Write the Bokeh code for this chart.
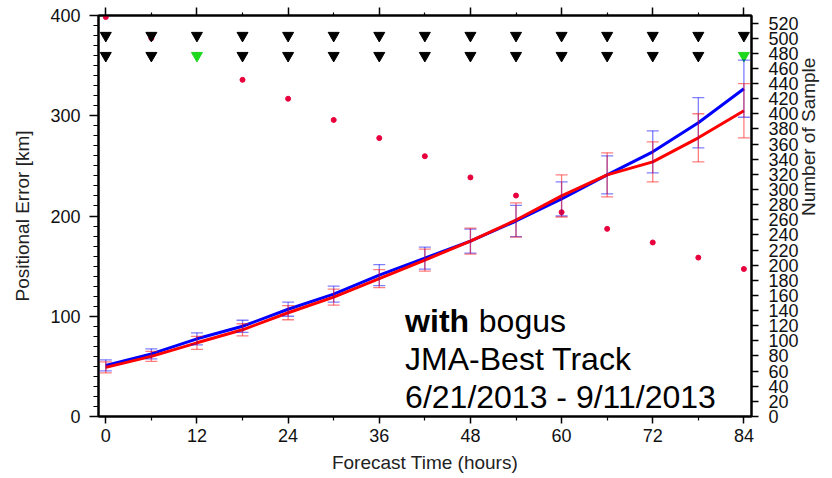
import math
from bokeh.plotting import figure
from bokeh.models import (Range1d, LinearAxis, FixedTicker, ColumnDataSource,
                          Whisker, TeeHead, Label)
from bokeh.transform import factor_cmap
from bokeh.embed import file_html
from bokeh.resources import INLINE

# ---------------- data ----------------
hours = [0, 6, 12, 18, 24, 30, 36, 42, 48, 54, 60, 66, 72, 78, 84]
err_blue = [51, 62.5, 77.5, 90, 107, 122, 141, 158, 175, 195, 217, 241, 264, 293, 327]
err_red = [49, 60, 73.5, 86.5, 103.5, 119, 137.5, 156, 175, 196, 220, 241, 254, 278, 305]
sd_blue = [5.5, 5, 6, 6, 7, 8, 10.5, 11, 12, 15.5, 17, 19, 21, 25, 28.5]
sd_red = [5.5, 5, 6.5, 6, 7, 8, 9, 11, 13, 17, 21, 22, 20, 24, 27]
n_samples = [528, 500, 478, 445, 420, 392, 368, 344, 316, 292, 270, 248, 230, 210, 195]
sig_row1 = ["ns"] * 15
sig_row2 = ["ns", "ns", "sig", "ns", "ns", "ns", "ns", "ns", "ns", "ns", "ns", "ns", "ns", "ns", "sig"]
x_ticks = [0, 12, 24, 36, 48, 60, 72, 84]
x_minor = [6, 18, 30, 42, 54, 66, 78]
y_ticks = [0, 100, 200, 300, 400]
n_ticks = list(range(0, 521, 20))

FONT = "Liberation Sans"

src = ColumnDataSource(dict(
    h=hours, b=err_blue, r=err_red, n=n_samples,
    bu=[v + e for v, e in zip(err_blue, sd_blue)],
    bl=[v - e for v, e in zip(err_blue, sd_blue)],
    ru=[v + e for v, e in zip(err_red, sd_red)],
    rl=[v - e for v, e in zip(err_red, sd_red)],
    s1=sig_row1, s2=sig_row2,
))

p = figure(width=832, height=478, output_backend="svg", toolbar_location=None,
           x_range=Range1d(-0.96, 85.0), y_range=Range1d(0, 400),
           min_border_left=98, min_border_right=79, min_border_top=15,
           min_border_bottom=62, background_fill_color="white",
           border_fill_color="white")
p.extra_y_ranges = {"n": Range1d(0, 530)}
p.grid.visible = False
p.outline_line_color = "black"
p.outline_line_width = 2


def style_axis(ax, tick_out, minor_out, standoff):
    ax.axis_line_width = 2
    ax.axis_line_color = "black"
    ax.major_tick_line_color = "black"
    ax.major_tick_line_width = 1.5
    ax.minor_tick_line_color = "black"
    ax.minor_tick_line_width = 1.2
    ax.major_tick_in = 0
    ax.major_tick_out = tick_out
    ax.minor_tick_in = 0
    ax.minor_tick_out = minor_out
    ax.major_label_standoff = standoff
    ax.major_label_text_font = FONT
    ax.major_label_text_font_size = "18px"
    ax.major_label_text_color = "#111111"
    ax.axis_label_text_font = FONT
    ax.axis_label_text_font_size = "19px"
    ax.axis_label_text_font_style = "normal"
    ax.axis_label_text_color = "#222222"


xa = p.xaxis[0]
xa.ticker = FixedTicker(ticks=x_ticks, minor_ticks=x_minor)
style_axis(xa, 7, 4, 5)
xa.axis_label = "Forecast Time (hours)"
xa.axis_label_standoff = 7

ya = p.yaxis[0]
ya.ticker = FixedTicker(ticks=y_ticks, minor_ticks=list(range(0, 401, 10)))
style_axis(ya, 9, 5, 9)
ya.axis_label = "Positional Error [km]"
ya.axis_label_standoff = 14

top = LinearAxis(ticker=FixedTicker(ticks=x_ticks, minor_ticks=x_minor))
style_axis(top, 8, 3, 0)
top.major_label_text_font_size = "0px"
top.major_label_overrides = {t: "" for t in x_ticks}
p.add_layout(top, "above")

right = LinearAxis(y_range_name="n", ticker=FixedTicker(ticks=n_ticks, minor_ticks=[]))
style_axis(right, 7, 0, 10)
right.axis_label = "Number of Sample"
right.axis_label_standoff = 7
try:
    right.axis_label_orientation = math.pi / 2
except Exception:
    pass
p.add_layout(right, "right")

# sample counts
p.scatter("h", "n", source=src, y_range_name="n", size=5, color="#e8003d")

# significance markers
cmap1 = factor_cmap("s1", palette=["black", "#1ed81e"], factors=["ns", "sig"])
cmap2 = factor_cmap("s2", palette=["black", "#1ed81e"], factors=["ns", "sig"])
p.scatter("h", 380, source=src, marker="inverted_triangle", size=11,
          fill_color=cmap1, line_color=cmap1)
p.scatter("h", 360, source=src, marker="inverted_triangle", size=11,
          fill_color=cmap2, line_color=cmap2)

# error lines
p.line("h", "b", source=src, line_color="#0000ff", line_width=3)
p.line("h", "r", source=src, line_color="#ff0000", line_width=3)

for up, lo, col in (("bu", "bl", "#0000ff"), ("ru", "rl", "#ff0000")):
    w = Whisker(base="h", upper=up, lower=lo, source=src, level="overlay",
                line_color=col, line_alpha=0.5, line_width=1.3,
                upper_head=TeeHead(size=12, line_color=col, line_alpha=0.5, line_width=1.3),
                lower_head=TeeHead(size=12, line_color=col, line_alpha=0.5, line_width=1.3))
    p.add_layout(w)

# annotation text
p.add_layout(Label(x=39.4, y=94.8, text="with", text_font=FONT, text_font_size="32px",
                   text_font_style="bold", text_color="black", text_baseline="alphabetic"))
p.add_layout(Label(x=49.1, y=94.8, text="bogus", text_font=FONT, text_font_size="32px",
                   text_color="black", text_baseline="alphabetic"))
p.add_layout(Label(x=39.4, y=56.9, text="JMA-Best Track", text_font=FONT,
                   text_font_size="32px", text_color="black", text_baseline="alphabetic"))
p.add_layout(Label(x=39.4, y=19.0, text="6/21/2013 - 9/11/2013", text_font=FONT,
                   text_font_size="32px", text_color="black", text_baseline="alphabetic"))

open("out.html", "w").write(file_html(p, INLINE))
